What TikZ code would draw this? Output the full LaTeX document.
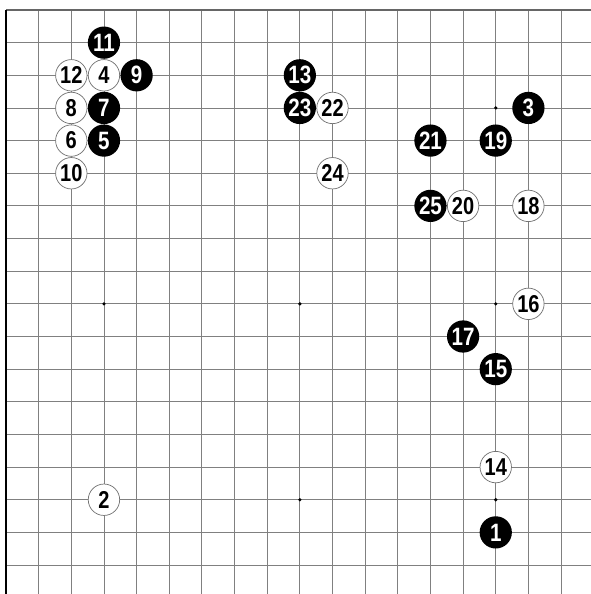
\documentclass[tikz,border=0pt]{standalone}
\usepackage{fontspec}
\newfontfamily\stonefont[FakeStretch=0.82]{Liberation Sans}

\begin{document}
\begin{tikzpicture}[
    x=0.8cm,
    y=-0.8cm,
    gridline/.style={
        draw=black!50,
        line width=0.6pt
    },
    topline/.style={
        draw=black!60,
        line width=1.2pt
    },
    leftline/.style={
        draw=black,
        line width=1.3pt
    },
    blackstone/.style={
        circle,
        fill=black,
        text=white,
        inner sep=0pt,
        minimum size=0.79cm,
        font=\stonefont\bfseries\fontsize{17.5}{17.5}\selectfont
    },
    whitestone/.style={
        circle,
        draw=black!55,
        line width=0.5pt,
        fill=white,
        text=black,
        inner sep=0pt,
        minimum size=0.77cm,
        font=\stonefont\bfseries\fontsize{17}{17}\selectfont
    }
]
\useasboundingbox (-0.184,-0.306) rectangle (17.917,17.887);

% =========================
% Board grid
% =========================
\foreach \i in {1,...,17} {
    \draw[gridline] (\i,0) -- (\i,17.887);
    \draw[gridline] (0,\i) -- (17.917,\i);
}
\draw[topline] (0,0) -- (17.917,0);
\draw[leftline] (0,0) -- (0,17.887);

% star points
\foreach \sx in {3,9,15} {
    \foreach \sy in {3,9,15} {
        \fill (\sx,\sy) circle (0.055);
    }
}

% =========================
% Stones, move order
% =========================
\node[blackstone] (m1)  at (15,16) {1};
\node[whitestone] (m2)  at (3,15)  {2};
\node[blackstone] (m3)  at (16,3)  {3};
\node[whitestone] (m4)  at (3,2)   {4};
\node[blackstone] (m5)  at (3,4)   {5};
\node[whitestone] (m6)  at (2,4)   {6};
\node[blackstone] (m7)  at (3,3)   {7};
\node[whitestone] (m8)  at (2,3)   {8};
\node[blackstone] (m9)  at (4,2)   {9};
\node[whitestone] (m10) at (2,5)   {10};
\node[blackstone] (m11) at (3,1)   {11};
\node[whitestone] (m12) at (2,2)   {12};
\node[blackstone] (m13) at (9,2)   {13};
\node[whitestone] (m14) at (15,14) {14};
\node[blackstone] (m15) at (15,11) {15};
\node[whitestone] (m16) at (16,9)  {16};
\node[blackstone] (m17) at (14,10) {17};
\node[whitestone] (m18) at (16,6)  {18};
\node[blackstone] (m19) at (15,4)  {19};
\node[whitestone] (m20) at (14,6)  {20};
\node[blackstone] (m21) at (13,4)  {21};
\node[whitestone] (m22) at (10,3)  {22};
\node[blackstone] (m23) at (9,3)   {23};
\node[whitestone] (m24) at (10,5)  {24};
\node[blackstone] (m25) at (13,6)  {25};

\end{tikzpicture}
\end{document}
